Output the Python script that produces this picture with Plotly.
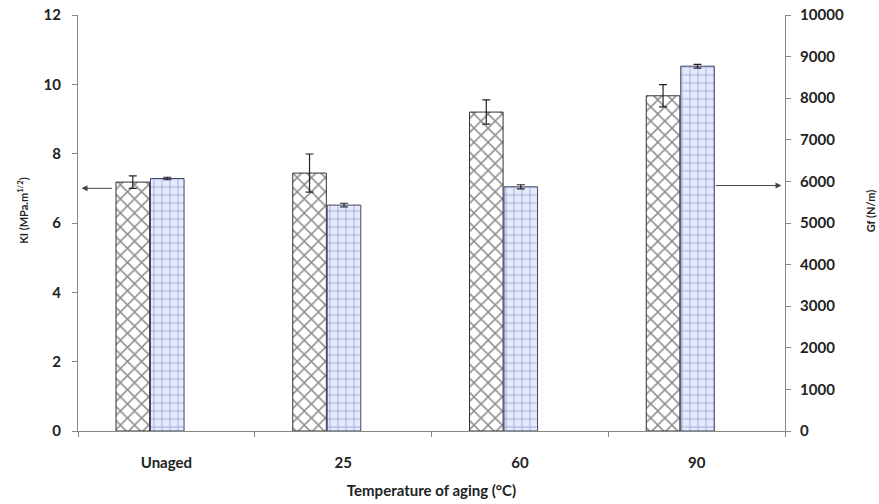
import plotly.graph_objects as go

categories = ["Unaged", "25", "60", "90"]
ki_values = [7.18, 7.44, 9.20, 9.67]
ki_errors = [0.18, 0.55, 0.35, 0.32]
gf_values = [6070, 5430, 5870, 8770]
gf_errors = [30, 45, 50, 45]
ki_ticks = [0, 2, 4, 6, 8, 10, 12]
gf_ticks = [0, 1000, 2000, 3000, 4000, 5000, 6000, 7000, 8000, 9000, 10000]
gf_ticktext = [str(v) for v in gf_ticks]

xpos = list(range(len(categories)))
FONT = "Lato"

fig = go.Figure()
fig.add_trace(go.Bar(
    x=xpos, y=ki_values, yaxis="y", width=0.19, offset=-0.285,
    marker=dict(color="white", line=dict(color="#333333", width=1),
                pattern=dict(shape="x", fgcolor="#1e1e1e", bgcolor="white",
                             size=10, solidity=0.28)),
    error_y=dict(type="data", array=ki_errors, color="#222222", thickness=1.2, width=4),
    showlegend=False,
))
fig.add_trace(go.Bar(
    x=xpos, y=gf_values, yaxis="y2", width=0.19, offset=-0.09,
    marker=dict(color="white", line=dict(color="#444466", width=1),
                pattern=dict(shape="+", fgcolor="#2e3fa8", bgcolor="#e4e9fb",
                             size=8, solidity=0.16)),
    error_y=dict(type="data", array=gf_errors, color="#222222", thickness=1.2, width=4),
    showlegend=False,
))

tick_font = dict(family=FONT, size=15, color="#222222", weight="bold")
title_font = dict(family=FONT, size=11, color="#222222", weight="bold")

fig.update_layout(
    width=879, height=504,
    margin=dict(l=78, r=94, t=15, b=73),
    plot_bgcolor="white", paper_bgcolor="white",
    barmode="overlay",
    xaxis=dict(
        range=[-0.5, 3.5], tickvals=xpos, ticktext=categories, ticks="",
        showline=True, linecolor="#888888", linewidth=1.2,
        tickfont=tick_font, ticklabelstandoff=18, automargin=False,
        minor=dict(ticks="outside", tick0=-0.5, dtick=1, ticklen=5, tickcolor="#888888"),
        title=dict(text="Temperature of aging (°C)", font=dict(family=FONT, size=15, color="#222222", weight="bold"), standoff=15),
        showgrid=False, zeroline=False,
    ),
    yaxis=dict(
        range=[0, 12], tickvals=ki_ticks, ticks="outside", ticklen=5, tickcolor="#888888",
        showline=True, linecolor="#888888", linewidth=1.2, tickfont=tick_font,
        ticklabelstandoff=8, automargin=False,
        showgrid=False, zeroline=False,
    ),
    yaxis2=dict(
        range=[0, 10000], tickvals=gf_ticks, ticktext=gf_ticktext, overlaying="y", side="right",
        ticks="outside", ticklen=5, tickcolor="#888888",
        showline=True, linecolor="#888888", linewidth=1.2, tickfont=tick_font,
        ticklabelstandoff=6, automargin=False,
        showgrid=False, zeroline=False,
    ),
)

fig.add_annotation(text="KI (MPa.m<sup>1/2</sup>)", xref="paper", yref="paper", x=-0.078, y=0.529,
                   textangle=-90, showarrow=False, font=title_font, xanchor="center", yanchor="middle")
fig.add_annotation(text="Gf (N/m)", xref="paper", yref="paper", x=1.122, y=0.529,
                   textangle=-90, showarrow=False, font=title_font, xanchor="center", yanchor="middle")

fig.add_annotation(x=-0.48, y=7.0, xref="x", yref="y", ax=-0.30, ay=7.0, axref="x", ayref="y",
                   text="", showarrow=True, arrowhead=2, arrowsize=1.2, arrowwidth=1, arrowcolor="#444444")
fig.add_annotation(x=3.48, y=5900, xref="x", yref="y2", ax=3.10, ay=5900, axref="x", ayref="y2",
                   text="", showarrow=True, arrowhead=2, arrowsize=1.2, arrowwidth=1, arrowcolor="#444444")

fig.write_html("out.html", config={"displayModeBar": False},
               post_script="document.body.style.margin='0';document.body.style.overflow='hidden';")
